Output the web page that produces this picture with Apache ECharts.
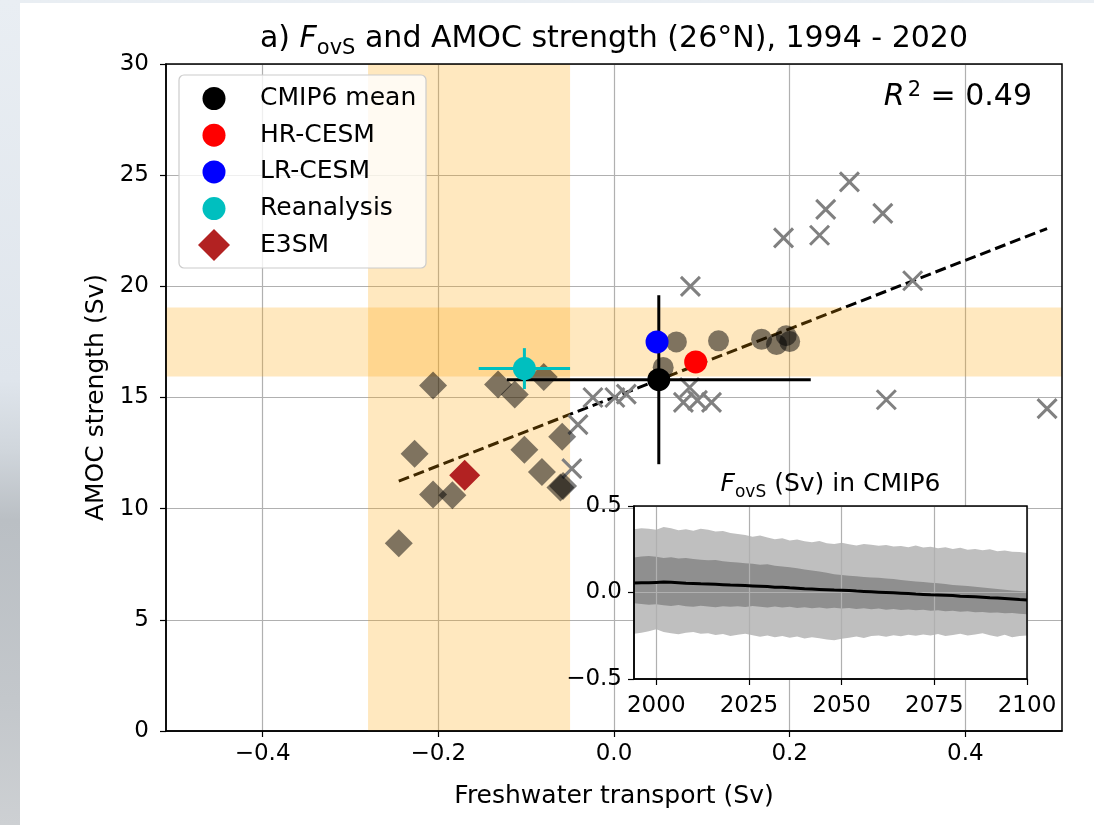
<!DOCTYPE html>
<html>
<head>
<meta charset="utf-8">
<script src="https://cdn.jsdelivr.net/npm/echarts@6/dist/echarts.min.js"></script>
<style>
  html, body { margin: 0; padding: 0; }
  body {
    width: 1094px; height: 825px; overflow: hidden; position: relative;
    background: linear-gradient(to bottom, #e9eef3 0px, #dfe5ec 380px, #d0d6dc 450px, #babfc4 520px, #c3c7cb 700px, #cdd0d3 825px);
  }
  #paper { position: absolute; left: 20px; top: 3px; right: 0; bottom: 0; background: #fff; }
  #chart { position: absolute; left: 0; top: 0; width: 1094px; height: 825px; }
</style>
</head>
<body>
<div id="paper"></div>
<div id="chart"></div>
<script>
// ---- scatter data (Fov,S in Sv, AMOC in Sv) ----
const crossX = [0.268, 0.241, 0.306, 0.193, 0.234, 0.087, 0.340, 0.310, 0.493, 0.086, 0.079, 0.095, 0.111, 0.014, -0.024, 0.001, -0.041, -0.048]
const crossY = [24.70, 23.46, 23.28, 22.18, 22.30, 20.00, 20.25, 14.90, 14.50, 15.45, 14.78, 14.87, 14.78, 15.15, 15.00, 15.00, 13.78, 11.80]

const diamondX = [-0.206, -0.132, -0.113, -0.080, -0.227, -0.102, -0.059, -0.082, -0.061, -0.058, -0.206, -0.184, -0.245]
const diamondY = [15.54, 15.58, 15.14, 15.92, 12.47, 12.65, 13.24, 11.65, 10.95, 11.02, 10.64, 10.60, 8.45]

const circleX = [0.056, 0.071, 0.119, 0.168, 0.185, 0.196, 0.200]
const circleY = [16.35, 17.50, 17.55, 17.62, 17.38, 17.78, 17.52]

const fitX = [-0.245, 0.493]
const fitY = [11.24, 22.60]

const bandFovs = [-0.28, -0.05]
const bandAmoc = [15.95, 19.05]

const cmipMean = [0.051, 15.80]
const cmipErr = [0.173, 3.80]
const hrCesm = [0.093, 16.60]
const lrCesm = [0.049, 17.50]
const reanalysis = [-0.102, 16.30]
const reanalysisErr = [0.052, 0.92]
const e3sm = [-0.170, 11.50]

const xTicks = [-0.4, -0.2, 0.0, 0.2, 0.4]

// ---- inset: Fov,S in CMIP6 ----
const years = [1994, 1996, 1998, 2000, 2002, 2004, 2006, 2008, 2010, 2012, 2014, 2016, 2018, 2020,
  2022, 2024, 2026, 2028, 2030, 2032, 2034, 2036, 2038, 2040, 2042, 2044, 2046, 2048, 2050,
  2052, 2054, 2056, 2058, 2060, 2062, 2064, 2066, 2068, 2070, 2072, 2074, 2076, 2078, 2080,
  2082, 2084, 2086, 2088, 2090, 2092, 2094, 2096, 2098, 2100]
const outerUpper = [0.365, 0.372, 0.368, 0.362, 0.378, 0.371, 0.360, 0.366, 0.357, 0.368, 0.363, 0.352, 0.355, 0.344,
  0.338, 0.333, 0.322, 0.330, 0.318, 0.308, 0.314, 0.301, 0.306, 0.296, 0.290, 0.298, 0.284, 0.281, 0.288,
  0.279, 0.272, 0.281, 0.276, 0.270, 0.275, 0.266, 0.269, 0.262, 0.271, 0.260, 0.264, 0.256, 0.262, 0.252,
  0.258, 0.247, 0.251, 0.244, 0.250, 0.238, 0.243, 0.236, 0.234, 0.228]
const outerLower = [-0.238, -0.232, -0.224, -0.213, -0.228, -0.236, -0.241, -0.233, -0.228, -0.239, -0.236, -0.246, -0.240, -0.251,
  -0.244, -0.238, -0.247, -0.256, -0.249, -0.258, -0.252, -0.262, -0.255, -0.266, -0.258, -0.264, -0.271, -0.276, -0.268,
  -0.262, -0.255, -0.263, -0.251, -0.248, -0.256, -0.247, -0.253, -0.244, -0.250, -0.243, -0.248, -0.240, -0.251, -0.246,
  -0.238, -0.249, -0.243, -0.235, -0.247, -0.256, -0.244, -0.259, -0.252, -0.248]
const innerUpper = [0.203, 0.208, 0.211, 0.206, 0.200, 0.204, 0.196, 0.199, 0.193, 0.190, 0.186, 0.188, 0.181, 0.176,
  0.174, 0.169, 0.166, 0.161, 0.163, 0.155, 0.151, 0.146, 0.140, 0.133, 0.127, 0.121, 0.114, 0.106, 0.101,
  0.097, 0.094, 0.090, 0.087, 0.085, 0.081, 0.078, 0.072, 0.068, 0.064, 0.060, 0.056, 0.053, 0.049, 0.044,
  0.041, 0.037, 0.033, 0.029, 0.025, 0.020, 0.016, 0.011, 0.008, 0.004]
const innerLower = [-0.062, -0.066, -0.071, -0.068, -0.074, -0.078, -0.072, -0.079, -0.083, -0.077, -0.081, -0.085, -0.079, -0.083,
  -0.080, -0.084, -0.078, -0.082, -0.086, -0.081, -0.087, -0.083, -0.089, -0.085, -0.091, -0.087, -0.093, -0.088, -0.092,
  -0.089, -0.095, -0.091, -0.097, -0.093, -0.099, -0.096, -0.101, -0.098, -0.103, -0.100, -0.106, -0.103, -0.108, -0.106,
  -0.111, -0.109, -0.114, -0.112, -0.117, -0.115, -0.120, -0.119, -0.123, -0.125]
const ensMean = [0.055, 0.057, 0.056, 0.058, 0.060, 0.059, 0.057, 0.054, 0.052, 0.050, 0.049, 0.047, 0.045, 0.043,
  0.042, 0.040, 0.038, 0.036, 0.034, 0.031, 0.030, 0.027, 0.025, 0.022, 0.020, 0.018, 0.016, 0.014, 0.013,
  0.011, 0.008, 0.006, 0.004, 0.002, 0.000, -0.002, -0.004, -0.006, -0.009, -0.011, -0.013, -0.014, -0.016, -0.018,
  -0.021, -0.023, -0.025, -0.027, -0.030, -0.032, -0.035, -0.038, -0.041, -0.043]
const insetTicks = [2000, 2025, 2050, 2075, 2100]

// ---- layout ----
const FONT = 'DejaVu Sans'
const MAIN = { left: 166, right: 32, top: 64, bottom: 94 }
const INSET = { left: 634, top: 506, width: 393, height: 173 }
const GRID_COLOR = '#b0b0b0'
const BAND_COLOR = 'rgba(255,165,0,0.25)'

const pairs = (xs, ys) => xs.map((x, i) => [x, ys[i]])
const fmt = d => v => (v < 0 ? '\u2212' : '') + Math.abs(v).toFixed(d)

// orange observation bands across the main axes
function bandItem(params, api) {
  const cs = params.coordSys
  const a = api.value(1)
  const b = api.value(2)
  let shape
  if (api.value(0) === 0) {
    const p0 = api.coord([a, 0])
    const p1 = api.coord([b, 0])
    shape = { x: p0[0], y: cs.y, width: p1[0] - p0[0], height: cs.height }
  } else {
    const p0 = api.coord([0, b])
    const p1 = api.coord([0, a])
    shape = { x: cs.x, y: p0[1], width: cs.width, height: p1[1] - p0[1] }
  }
  return { type: 'rect', shape, style: { fill: BAND_COLOR } }
}

function errItem(params, api) {
  const x = api.value(0), y = api.value(1), ex = api.value(2), ey = api.value(3)
  const l = api.coord([x - ex, y]), r = api.coord([x + ex, y])
  const t = api.coord([x, y + ey]), b = api.coord([x, y - ey])
  const style = { stroke: api.visual('color'), lineWidth: 3 }
  return {
    type: 'group',
    children: [
      { type: 'line', shape: { x1: l[0], y1: l[1], x2: r[0], y2: r[1] }, style },
      { type: 'line', shape: { x1: t[0], y1: t[1], x2: b[0], y2: b[1] }, style },
    ],
  }
}

// one polygon between lower (dim 1) and upper (dim 2) for the whole series
function spreadItem(params, api) {
  if (params.dataIndexInside !== 0) return null
  const top = []
  const bottom = []
  for (let i = 0; i < params.dataInsideLength; i++) {
    top.push(api.coord([api.value(0, i), api.value(2, i)]))
    bottom.push(api.coord([api.value(0, i), api.value(1, i)]))
  }
  return {
    type: 'polygon',
    shape: { points: top.concat(bottom.reverse()) },
    style: { fill: api.visual('color') },
  }
}

const axisText = { color: '#000', fontFamily: FONT, fontSize: 23 }
const nameText = { color: '#000', fontFamily: FONT, fontSize: 25 }
const legendRich = pad => ({ t: { fontFamily: FONT, fontSize: 25, lineHeight: 25, color: '#000', padding: [0, 0, 0, pad] } })

const chart = echarts.init(document.getElementById('chart'))

const option = {
  backgroundColor: 'transparent',
  animation: false,
  grid: [
    { left: MAIN.left, right: MAIN.right, top: MAIN.top, bottom: MAIN.bottom,
      show: true, borderColor: '#000', borderWidth: 1.5, backgroundColor: 'transparent', z: 6 },
    { left: INSET.left, top: INSET.top, width: INSET.width, height: INSET.height,
      show: true, borderColor: '#000', borderWidth: 1.5, backgroundColor: 'transparent', z: 15 },
  ],
  xAxis: [
    {
      gridIndex: 0, type: 'value', min: -0.51, max: 0.51,
      name: 'Freshwater transport (Sv)', nameLocation: 'middle', nameGap: 53,
      nameTextStyle: nameText,
      axisLine: { onZero: false, lineStyle: { color: '#000', width: 1.5 } },
      axisTick: { show: true, length: 6, customValues: xTicks, lineStyle: { color: '#000', width: 1.2 } },
      axisLabel: { customValues: xTicks, formatter: fmt(1), margin: 12, ...axisText },
      splitLine: { show: true, lineStyle: { color: GRID_COLOR, width: 1.2 } },
    },
    {
      gridIndex: 1, type: 'value', min: 1994, max: 2100, z: 13,
      axisLine: { onZero: false, lineStyle: { color: '#000', width: 1.5 } },
      axisTick: { show: true, length: 6, customValues: insetTicks, lineStyle: { color: '#000', width: 1.2 } },
      axisLabel: { customValues: insetTicks, formatter: v => String(v), margin: 16, ...axisText },
      splitLine: { show: true, lineStyle: { color: GRID_COLOR, width: 1.2 } },
    },
  ],
  yAxis: [
    {
      gridIndex: 0, type: 'value', min: 0, max: 30, interval: 5,
      name: 'AMOC strength (Sv)', nameLocation: 'middle', nameGap: 57, nameRotate: 90,
      nameTextStyle: nameText,
      axisLine: { onZero: false, lineStyle: { color: '#000', width: 1.5 } },
      axisTick: { show: true, length: 6, lineStyle: { color: '#000', width: 1.2 } },
      axisLabel: { margin: 17, ...axisText },
      splitLine: { show: true, lineStyle: { color: GRID_COLOR, width: 1.2 } },
    },
    {
      gridIndex: 1, type: 'value', min: -0.5, max: 0.5, interval: 0.5, z: 13,
      axisLine: { onZero: false, lineStyle: { color: '#000', width: 1.5 } },
      axisTick: { show: true, length: 6, lineStyle: { color: '#000', width: 1.2 } },
      axisLabel: { formatter: fmt(1), margin: 12, ...axisText },
      splitLine: { show: true, lineStyle: { color: GRID_COLOR, width: 1.2 } },
    },
  ],
  legend: [
    {
      left: 202.5, top: 86, orient: 'vertical', padding: 0, z: 8,
      itemWidth: 23, itemHeight: 23, itemGap: 11.7, selectedMode: false,
      formatter: name => '{t|' + name + '}',
      textStyle: { rich: legendRich(29.5) },
      data: ['CMIP6 mean', 'HR-CESM', 'LR-CESM', 'Reanalysis'],
    },
    {
      left: 198, top: 229, orient: 'vertical', padding: 0, z: 8,
      itemWidth: 32, itemHeight: 32, selectedMode: false,
      formatter: name => '{t|' + name + '}',
      textStyle: { rich: legendRich(25) },
      data: ['E3SM'],
    },
  ],
  graphic: [
    { type: 'rect', z: 7, shape: { x: 179, y: 75, width: 247, height: 193, r: 5 },
      style: { fill: 'rgba(255,255,255,0.8)', stroke: '#cccccc', lineWidth: 1.2 } },
    { type: 'rect', z: 10,
      shape: { x: INSET.left, y: INSET.top, width: INSET.width, height: INSET.height },
      style: { fill: '#fff' } },
    { type: 'text', z: 10, x: 614, y: 39,
      style: {
        text: '{n|a) }{i|F}{s|ovS}{n| and AMOC strength (26°N), 1994 - 2020}',
        align: 'center', verticalAlign: 'middle',
        rich: {
          n: { fontFamily: FONT, fontSize: 30, lineHeight: 40, fill: '#000' },
          i: { fontFamily: FONT, fontSize: 30, lineHeight: 40, fontStyle: 'italic', fill: '#000' },
          s: { fontFamily: FONT, fontSize: 21, lineHeight: 40, verticalAlign: 'bottom', fill: '#000' },
        },
      } },
    { type: 'text', z: 10, x: 1032, y: 97,
      style: {
        text: '{i|R}{p|2}{n| = 0.49}',
        align: 'right', verticalAlign: 'middle',
        rich: {
          n: { fontFamily: FONT, fontSize: 30, lineHeight: 34, fill: '#000' },
          i: { fontFamily: FONT, fontSize: 30, lineHeight: 34, fontStyle: 'italic', fill: '#000' },
          p: { fontFamily: FONT, fontSize: 21, lineHeight: 34, verticalAlign: 'top', fill: '#000', padding: [0, 0, 0, 3] },
        },
      } },
    { type: 'text', z: 16, x: INSET.left + INSET.width / 2, y: 484,
      style: {
        text: '{i|F}{s|ovS}{n| (Sv) in CMIP6}',
        align: 'center', verticalAlign: 'middle',
        rich: {
          n: { fontFamily: FONT, fontSize: 25, lineHeight: 34, fill: '#000' },
          i: { fontFamily: FONT, fontSize: 25, lineHeight: 34, fontStyle: 'italic', fill: '#000' },
          s: { fontFamily: FONT, fontSize: 17, lineHeight: 34, verticalAlign: 'bottom', fill: '#000' },
        },
      } },
  ],
  series: [
    {
      name: 'fit', type: 'line', z: 1, xAxisIndex: 0, yAxisIndex: 0,
      data: pairs(fitX, fitY), symbol: 'none',
      lineStyle: { color: '#000', width: 3, type: [11, 5] },
    },
    {
      name: 'bands', type: 'custom', z: 2, xAxisIndex: 0, yAxisIndex: 0,
      renderItem: bandItem, silent: true,
      data: [[0, bandFovs[0], bandFovs[1]], [1, bandAmoc[0], bandAmoc[1]]],
      encode: { x: 1, y: 2 },
    },
    {
      name: 'models x', type: 'scatter', z: 3, xAxisIndex: 0, yAxisIndex: 0,
      data: pairs(crossX, crossY), symbol: 'path://M0,0L10,10M10,0L0,10', symbolSize: 19,
      itemStyle: { color: 'transparent', borderColor: '#808080', borderWidth: 3, opacity: 1 },
    },
    {
      name: 'models diamond', type: 'scatter', z: 3, xAxisIndex: 0, yAxisIndex: 0,
      data: pairs(diamondX, diamondY), symbol: 'diamond', symbolSize: 28,
      itemStyle: { color: 'rgba(0,0,0,0.5)', opacity: 1 },
    },
    {
      name: 'models circle', type: 'scatter', z: 3, xAxisIndex: 0, yAxisIndex: 0,
      data: pairs(circleX, circleY), symbol: 'circle', symbolSize: 21,
      itemStyle: { color: 'rgba(0,0,0,0.5)', opacity: 1 },
    },
    {
      name: 'CMIP6 mean err', type: 'custom', z: 4, xAxisIndex: 0, yAxisIndex: 0,
      renderItem: errItem, itemStyle: { color: '#000' },
      data: [[cmipMean[0], cmipMean[1], cmipErr[0], cmipErr[1]]],
    },
    {
      name: 'Reanalysis err', type: 'custom', z: 4, xAxisIndex: 0, yAxisIndex: 0,
      renderItem: errItem, itemStyle: { color: '#00bfbf' },
      data: [[reanalysis[0], reanalysis[1], reanalysisErr[0], reanalysisErr[1]]],
    },
    {
      name: 'CMIP6 mean', type: 'scatter', z: 5, symbol: 'circle', symbolSize: 23,
      itemStyle: { color: '#000', opacity: 1 }, data: [cmipMean],
    },
    {
      name: 'HR-CESM', type: 'scatter', z: 5, symbol: 'circle', symbolSize: 23,
      itemStyle: { color: '#ff0000', opacity: 1 }, data: [hrCesm],
    },
    {
      name: 'LR-CESM', type: 'scatter', z: 5, symbol: 'circle', symbolSize: 23,
      itemStyle: { color: '#0000ff', opacity: 1 }, data: [lrCesm],
    },
    {
      name: 'Reanalysis', type: 'scatter', z: 5, symbol: 'circle', symbolSize: 23,
      itemStyle: { color: '#00bfbf', opacity: 1 }, data: [reanalysis],
    },
    {
      name: 'E3SM', type: 'scatter', z: 5, symbol: 'diamond', symbolSize: 31,
      itemStyle: { color: '#b22222', opacity: 1 }, data: [e3sm],
    },
    // inset spread bands and ensemble mean
    {
      name: 'outer spread', type: 'custom', xAxisIndex: 1, yAxisIndex: 1, z: 12,
      renderItem: spreadItem, itemStyle: { color: '#bfbfbf' }, silent: true,
      encode: { x: 0, y: [1, 2] },
      data: years.map((y, i) => [y, outerLower[i], outerUpper[i]]),
    },
    {
      name: 'inner spread', type: 'custom', xAxisIndex: 1, yAxisIndex: 1, z: 12,
      renderItem: spreadItem, itemStyle: { color: '#8f8f8f' }, silent: true,
      encode: { x: 0, y: [1, 2] },
      data: years.map((y, i) => [y, innerLower[i], innerUpper[i]]),
    },
    {
      name: 'ensemble mean', type: 'line', xAxisIndex: 1, yAxisIndex: 1, z: 14,
      symbol: 'none', lineStyle: { color: '#000', width: 3 },
      data: pairs(years, ensMean),
    },
  ],
}

chart.setOption(option)
</script>
</body>
</html>
